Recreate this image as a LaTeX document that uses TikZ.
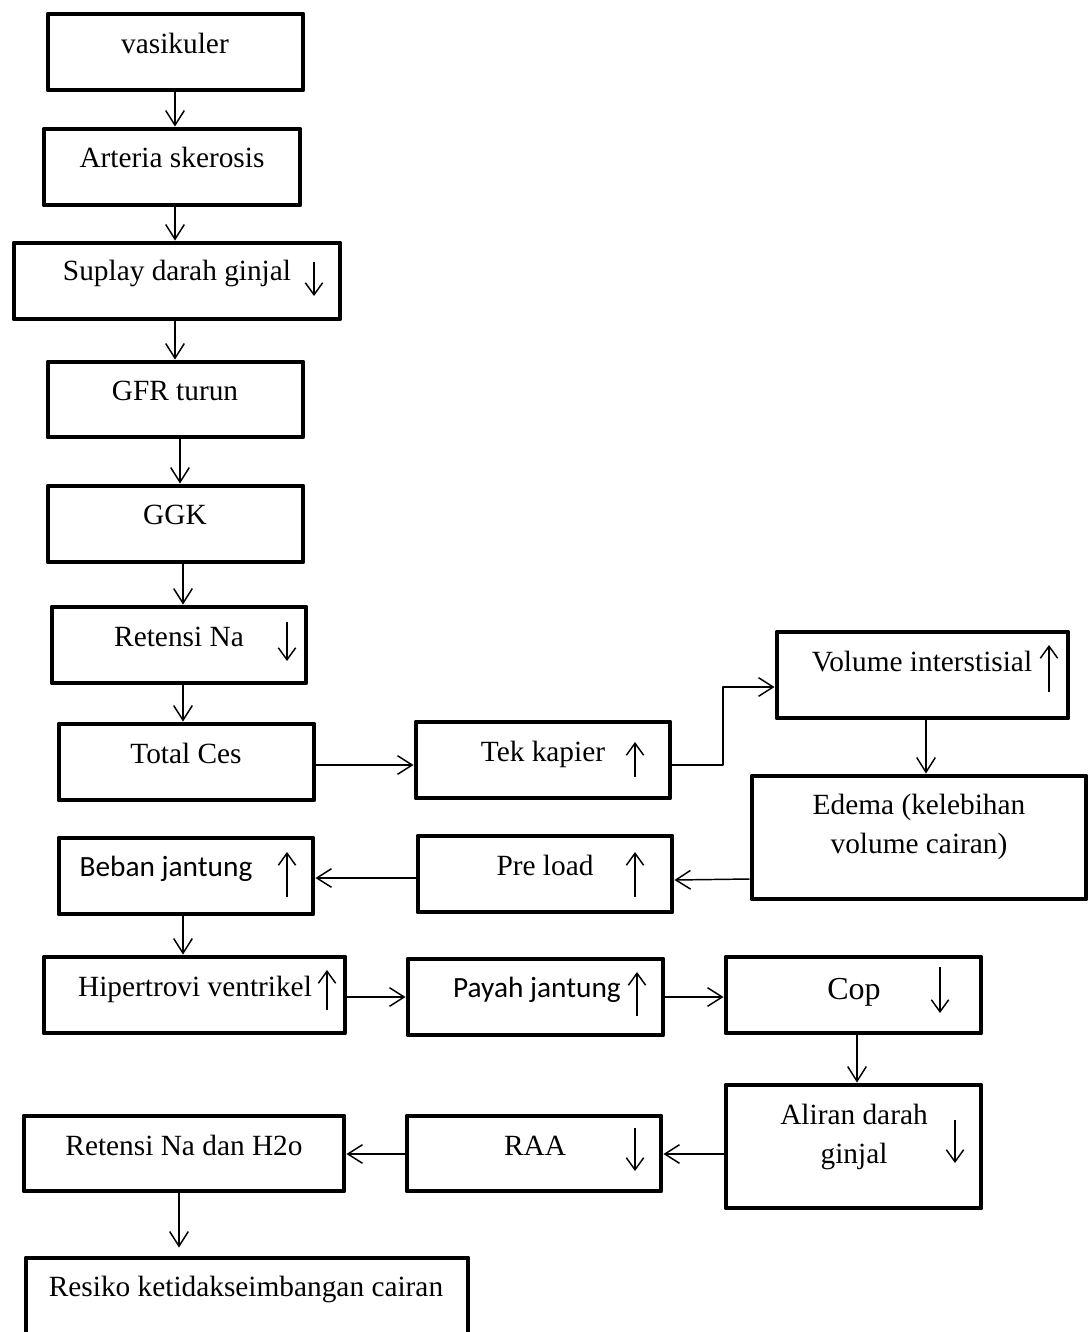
\documentclass[tikz,border=0pt]{standalone}
\usepackage{fontspec}
\setmainfont{Liberation Serif}
\newfontfamily\calibri{Carlito}
\usetikzlibrary{arrows.meta,fit}

\begin{document}
\begin{tikzpicture}[x=0.75pt, y=-0.75pt, line join=round,
	kotak/.style={draw, line width=3.7pt, inner sep=0pt},
	teks/.style={anchor=base, inner sep=0pt, font=\fontsize{22}{29.25}\selectfont},
	teks2/.style={inner sep=0pt, align=center, font=\fontsize{22}{29.25}\selectfont},
	panah/.style={line width=1.1pt, -{Straight Barb[length=11pt, width=14pt, line width=1.1pt]}},
	simbol/.style={line width=1.1pt, -{Straight Barb[length=9pt, width=13pt, line width=1.1pt]}}]
	\useasboundingbox (0,0) rectangle (1090,1332);
	\clip (0,0) rectangle (1090,1332);
	
	% Kotak-kotak (sudut kiri atas / kanan bawah)
	\foreach \nm/\xa/\ya/\xb/\yb in {vas/48/14/303/90, art/44/129/300/205, sup/14/243/340/319,
		gfr/48/362/303/437, ggk/48/486/303/562, retna/52/607/306/683, tces/59/724/314/800,
		tek/416/722/670/798, vol/777/632/1068/718, edema/752/776/1086/899, pre/418/836/672/912,
		beban/59/838/313/914, hip/44/957/345/1033, payah/408/959/663/1035, cop/726/957/981/1033,
		aliran/726/1085/981/1208, raa/407/1116/661/1191, reth/24/1116/344/1191, resiko/26/1258/468/1360} {
		\node[kotak, fit={(\xa,\ya) (\xb,\yb)}] (\nm) {};
	}
	
	% Tulisan di dalam kotak
	\foreach \x/\y/\isi in {175/53/vasikuler, 172/167/Arteria skerosis, 177/280/Suplay darah ginjal,
		175/400/GFR turun, 175/524/GGK, 179/646/Retensi Na, 186/763/Total Ces, 543/761/Tek kapier,
		922/671/Volume interstisial, 545/875/Pre load, 166/876/{\calibri Beban jantung},
		195/996/Hipertrovi ventrikel, 537/997/{\calibri Payah jantung},
		535/1155/RAA, 184/1155/Retensi Na dan H2o, 246/1296/Resiko ketidakseimbangan cairan} {
		\node[teks] at (\x,\y) {\isi};
	}
	\node[teks, font=\fontsize{24}{29.25}\selectfont] at (854,999) {Cop};
	\node[teks2] at (919,827) {Edema (kelebihan\\volume cairan)};
	\node[teks2] at (854,1137) {Aliran darah\\ginjal};
	
	% Tanda naik / turun
	\foreach \x/\ya/\yb in {314/262/296, 287/622/661, 635/777/742, 1049/692/645, 635/897/852,
		287/897/852, 327/1010/970, 637/1016/972, 940/967/1013, 955/1120/1163, 635/1128/1171} {
		\draw[simbol] (\x,\ya) -- (\x,\yb);
	}
	
	% Panah penghubung
	\draw[panah] (175,0 |- vas.south) -- (175,0 |- art.north);
	\draw[panah] (175,0 |- art.south) -- (175,0 |- sup.north);
	\draw[panah] (175,0 |- sup.south) -- (175,0 |- gfr.north);
	\draw[panah] (180,0 |- gfr.south) -- (180,0 |- ggk.north);
	\draw[panah] (183,0 |- ggk.south) -- (183,0 |- retna.north);
	\draw[panah] (183,0 |- retna.south) -- (183,0 |- tces.north);
	\draw[panah] (tces.east |- 0,765) -- (tek.west |- 0,765);
	\coordinate (belok) at (723,687);
	\draw[panah] (tek.east |- 0,765) -| (belok) -- (vol.west |- belok);
	\draw[panah] (926,0 |- vol.south) -- (926,0 |- edema.north);
	\draw[panah] (edema.west |- 0,879) -- (pre.east |- 0,880);
	\draw[panah] (pre.west |- 0,878) -- (beban.east |- 0,878);
	\draw[panah] (183,0 |- beban.south) -- (183,0 |- hip.north);
	\draw[panah] (hip.east |- 0,997) -- (payah.west |- 0,997);
	\draw[panah] (payah.east |- 0,997) -- (cop.west |- 0,997);
	\draw[panah] (857,0 |- cop.south) -- (857,0 |- aliran.north);
	\draw[panah] (aliran.west |- 0,1154) -- (raa.east |- 0,1154);
	\draw[panah] (raa.west |- 0,1154) -- (reth.east |- 0,1154);
	\draw[panah, shorten >=6pt] (179,0 |- reth.south) -- (179,0 |- resiko.north);
\end{tikzpicture}
\end{document}
